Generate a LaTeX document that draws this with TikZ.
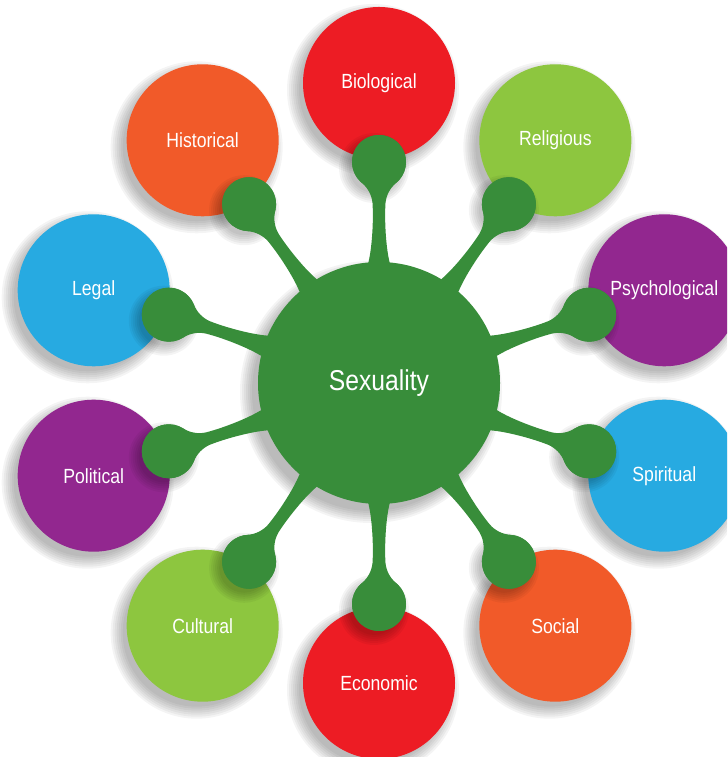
\documentclass[tikz,border=0pt]{standalone}
\usepackage{fontspec}
\setmainfont{Liberation Sans}[FakeStretch=0.86]
\usetikzlibrary{calc}
\definecolor{cred}{HTML}{ED1C24}
\definecolor{corange}{HTML}{F15A29}
\definecolor{clime}{HTML}{8DC63F}
\definecolor{cpurple}{HTML}{92278F}
\definecolor{cblue}{HTML}{27AAE1}
\definecolor{cgreen}{HTML}{388D3A}
\tikzset{
  bubble/.style={circle, inner sep=0pt, minimum size=4.56cm, text=white, font=\fontsize{17.5}{20}\selectfont},
  hub/.style={circle, inner sep=0pt, minimum size=7.26cm, fill=cgreen, text=white, font=\fontsize{24.5}{28}\selectfont},
  knob/.style={circle, inner sep=0pt, minimum size=1.62cm, fill=cgreen},
  shade/.style={black, opacity=0.045},
  stem/.style={fill=cgreen}
}
\begin{document}
\begin{tikzpicture}[x=0.03cm,y=0.03cm]
\useasboundingbox (0,0) rectangle (727,757);
\clip (0,0) rectangle (727,757);
\begin{scope}[shift={(379,374)}]
  % shadows of outer bubbles
  \foreach \a in {90,54,18,-18,-54,-90,-126,-162,162,126} {
    \foreach \s in {-2,0,...,10}
      \fill[shade] ($(\a:300)+(-6,-7)$) circle[radius=76+\s];
  }
  % outer bubbles
  \foreach \a/\col/\lab [count=\i] in {90/cred/Biological, 54/clime/Religious, 18/cpurple/Psychological, -18/cblue/Spiritual, -54/corange/Social, -90/cred/Economic, -126/clime/Cultural, -162/cpurple/Political, 162/cblue/Legal, 126/corange/Historical} {
    \node[bubble, fill=\col] (b\i) at (\a:300) {\lab};
  }
  % hub shadow
  \foreach \s in {-2,0,...,10}
    \fill[shade] (-8,-9) circle[radius=121+\s];
  % knob shadows
  \foreach \a in {90,54,18,-18,-54,-90,-126,-162,162,126} {
    \foreach \s in {-2,0,...,8}
      \fill[shade] ($(\a:221)+(-5,-6)$) circle[radius=27+\s];
  }
  % stems
  \foreach \a in {90,54,18,-18,-54,-90,-126,-162,162,126} {
    \begin{scope}[rotate=\a]
      \fill[stem] (100,13) -- (121,10.5)
        .. controls (138,6.5) and (165,5.5) .. (180,6.5)
        .. controls (188,7.3) and (195.2,11.2) .. (200.3,17.36)
        arc[start angle=140, end angle=-140, radius=27]
        .. controls (195.2,-11.2) and (188,-7.3) .. (180,-6.5)
        .. controls (165,-5.5) and (138,-6.5) .. (121,-10.5)
        -- (100,-13) -- cycle;
    \end{scope}
  }
  % hub
  \node[hub] (S) at (0,0) {Sexuality};
  % knobs
  \foreach \a [count=\i] in {90,54,18,-18,-54,-90,-126,-162,162,126} {
    \node[knob] (k\i) at (\a:221) {};
  }
\end{scope}
\end{tikzpicture}
\end{document}
